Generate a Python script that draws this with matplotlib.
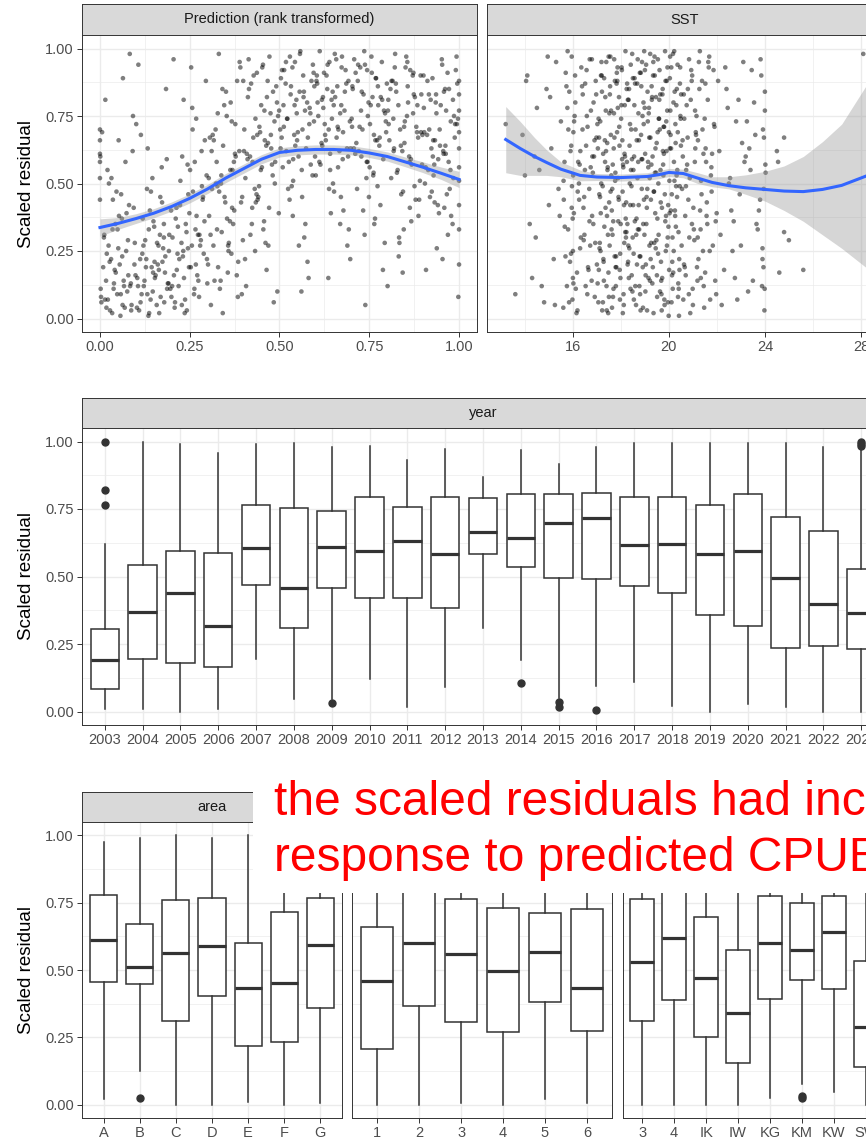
import matplotlib
matplotlib.use("Agg")
import matplotlib.pyplot as plt
from matplotlib.patches import Rectangle

plt.rcParams['font.family'] = ['Liberation Sans', 'DejaVu Sans']

# ---- data ----
# top left: rank transformed prediction vs scaled residual
pred_rank = [
    .003,.012,.021,.034,.041,.052,.067,.073,.088,.094,.006,.017,.028,.031,.046,.058,.061,.079,.083,.097,.001,.014,.025,.038,.049,.055,.069,.071,.086,.092,.036,.064,
    .104,.113,.126,.131,.147,.152,.165,.178,.181,.199,.107,.118,.122,.139,.144,.158,.163,.172,.189,.193,.101,.116,.129,.135,.149,.155,.168,.176,.184,.196,.133,.161,
    .202,.214,.223,.237,.245,.251,.266,.274,.283,.298,.208,.211,.227,.233,.248,.259,.262,.277,.289,.292,.205,.219,.224,.239,.242,.256,.268,.271,.286,.295,.231,.264,
    .303,.316,.322,.334,.347,.351,.362,.378,.385,.391,.309,.312,.328,.339,.343,.356,.369,.374,.382,.398,.306,.319,.325,.331,.349,.358,.364,.371,.388,.395,.337,.367,
    .401,.415,.424,.433,.448,.452,.461,.476,.487,.493,.407,.411,.428,.436,.444,.457,.468,.472,.481,.499,.404,.418,.421,.439,.446,.455,.465,.479,.484,.496,.431,.463,
    .502,.513,.526,.531,.544,.558,.563,.571,.589,.592,.506,.518,.521,.537,.547,.553,.566,.578,.583,.597,.509,.511,.529,.534,.541,.556,.569,.574,.586,.595,.538,.561,
    .603,.617,.622,.639,.641,.655,.662,.678,.684,.691,.608,.612,.627,.633,.649,.651,.667,.673,.689,.696,.605,.614,.629,.636,.645,.658,.664,.671,.682,.698,.631,.669,
    .701,.712,.728,.734,.742,.756,.763,.775,.781,.799,.707,.719,.723,.737,.748,.751,.769,.772,.788,.794,.704,.716,.725,.731,.745,.759,.766,.778,.785,.791,.739,.761,
    .803,.818,.821,.836,.844,.857,.868,.872,.887,.893,.806,.811,.825,.832,.849,.853,.861,.879,.884,.898,.801,.815,.829,.838,.846,.855,.864,.876,.881,.895,.834,.866,
    .902,.914,.926,.933,.941,.958,.963,.977,.982,.991,.905,.917,.921,.938,.947,.952,.966,.971,.986,.995,.908,.911,.929,.935,.944,.956,.968,.974,.989,.998,.931,.961,
    1.0,1.0,1.0,1.0,1.0,1.0,1.0,1.0,1.0,1.0, 0.0,0.0,0.0,0.0,0.0,0.0,
    .009,.018,.024,.039,.043,.057,.062,.076,.081,.099,.004,.011,.027,.032,.048,.051,.066,.074,.087,.091,.002,.019,.022,.035,.044,.059,.063,.078,.084,.096,.015,.053,
    .109,.112,.124,.136,.141,.159,.164,.173,.187,.192,.103,.119,.128,.132,.146,.153,.167,.179,.182,.198,.106,.114,.121,.137,.148,.151,.169,.174,.186,.191,.142,.178,
    .201,.217,.228,.232,.246,.253,.269,.276,.281,.297,.206,.213,.221,.236,.241,.258,.263,.279,.284,.291,.209,.216,.229,.234,.249,.254,.267,.273,.287,.299,.244,.257,
    .304,.311,.329,.332,.341,.359,.363,.377,.384,.393,.308,.317,.323,.336,.346,.354,.366,.373,.389,.396,.301,.314,.326,.338,.342,.353,.368,.376,.381,.399,.357,.327,
    .402,.419,.425,.437,.441,.458,.464,.477,.482,.498,.405,.414,.427,.432,.449,.451,.467,.471,.486,.494,.409,.412,.423,.438,.443,.454,.469,.475,.488,.491,.434,.459,
    .503,.517,.522,.538,.543,.551,.567,.572,.584,.599,.507,.512,.528,.532,.549,.557,.562,.577,.581,.596,.504,.519,.524,.536,.548,.554,.568,.579,.587,.593,.542,.564,
    .606,.611,.624,.637,.648,.652,.669,.674,.688,.692,.601,.618,.626,.634,.643,.659,.661,.676,.681,.697,.604,.619,.621,.638,.646,.654,.663,.677,.686,.693,.641,.672,
    .703,.714,.727,.738,.743,.752,.768,.773,.786,.797,.708,.711,.729,.733,.746,.757,.762,.779,.782,.793,.702,.718,.721,.736,.749,.754,.767,.774,.789,.796,.744,.764,
    .804,.812,.827,.831,.848,.851,.863,.874,.883,.897,.809,.817,.822,.839,.842,.858,.867,.871,.886,.891,.802,.819,.824,.833,.847,.856,.862,.877,.889,.894,.843,.873,
    .903,.916,.924,.937,.942,.953,.962,.978,.983,.994,.907,.912,.928,.932,.949,.957,.969,.972,.984,.997,.901,.919,.923,.936,.946,.954,.964,.976,.988,.993,.927,.959,
]
pred_resid = [
    .08,.31,.55,.02,.18,.66,.12,.25,.05,.41,.69,.14,.03,.22,.47,.09,.37,.16,.98,.28,.60,.07,.50,.11,.33,.20,.04,.58,.13,.75,.44,.89,
    .15,.06,.29,.48,.10,.21,.02,.35,.17,.08,.94,.24,.12,.40,.19,.05,.27,.56,.13,.31,.72,.09,.22,.01,.36,.16,.45,.26,.85,.11,.63,.20,
    .30,.18,.42,.07,.26,.55,.33,.14,.62,.22,.04,.37,.28,.81,.19,.47,.09,.31,.24,.66,.96,.12,.51,.35,.03,.27,.74,.16,.44,.88,.23,.58,
    .52,.27,.70,.11,.45,.84,.36,.60,.21,.93,.05,.48,.76,.32,.64,.17,.55,.40,.88,.29,.67,.14,.58,.98,.43,.25,.80,.35,.62,.09,.50,.73,
    .62,.85,.41,.74,.55,.93,.28,.68,.50,.80,.12,.59,.90,.46,.71,.36,.65,.97,.53,.77,.22,.60,.87,.44,.69,.33,.82,.57,.06,.75,.48,.64,
    .70,.92,.58,.83,.64,.99,.45,.77,.88,.53,.67,.95,.74,.38,.81,.60,.90,.21,.72,.86,.56,.79,.97,.49,.68,.84,.30,.63,.76,.91,.59,.10,
    .88,.65,.78,.95,.55,.82,.71,.40,.92,.60,.75,.99,.68,.85,.50,.79,.62,.93,.27,.73,.87,.57,.66,.15,.81,.96,.70,.45,.84,.63,.90,.35,
    .74,.91,.60,.83,.52,.97,.68,.79,.42,.87,.63,.94,.71,.31,.80,.56,.89,.66,.18,.76,.85,.48,.93,.70,.58,.82,.37,.64,.95,.77,.05,.53,
    .81,.62,.93,.70,.47,.86,.57,.76,.38,.90,.66,.52,.84,.23,.73,.97,.60,.44,.79,.68,.12,.88,.55,.64,.33,.75,.92,.49,.71,.83,.28,.59,
    .78,.55,.89,.66,.42,.84,.61,.73,.35,.92,.50,.70,.81,.26,.64,.96,.46,.58,.75,.87,.18,.68,.53,.80,.39,.62,.91,.48,.72,.08,.57,.85,
    .20,.33,.42,.51,.56,.63,.69,.77,.83,.88, .66,.58,.44,.70,.52,.61,
    .19,.04,.27,.13,.35,.01,.23,.10,.42,.16,.06,.30,.21,.52,.09,.26,.14,.39,.03,.62,.11,.24,.07,.33,.17,.46,.05,.29,.12,.20,.81,.38,
    .03,.22,.14,.33,.07,.28,.18,.43,.11,.25,.04,.37,.19,.09,.52,.15,.31,.06,.23,.40,.12,.68,.27,.02,.17,.34,.08,.21,.59,.13,.47,.30,
    .12,.34,.05,.25,.46,.19,.38,.08,.29,.53,.16,.41,.22,.02,.32,.70,.11,.27,.49,.36,.06,.24,.60,.15,.39,.93,.20,.31,.45,.13,.57,.78,
    .38,.62,.19,.47,.85,.28,.55,.72,.08,.43,.31,.66,.50,.14,.79,.37,.24,.58,.95,.45,.20,.68,.33,.53,.02,.75,.41,.61,.16,.88,.27,.49,
    .70,.31,.58,.91,.45,.77,.18,.63,.84,.39,.52,.96,.67,.25,.79,.56,.88,.41,.73,.10,.61,.82,.35,.68,.49,.94,.27,.76,.58,.86,.43,.66,
    .63,.87,.74,.51,.95,.69,.82,.35,.78,.60,.92,.71,.44,.86,.66,.98,.55,.80,.15,.73,.89,.62,.48,.93,.76,.27,.84,.67,.57,.94,.79,.70,
    .80,.58,.91,.70,.84,.47,.76,.97,.63,.88,.53,.81,.72,.94,.39,.67,.86,.59,.77,.22,.90,.64,.82,.48,.74,.98,.56,.69,.87,.33,.61,.79,
    .86,.65,.77,.94,.58,.72,.89,.49,.81,.69,.96,.61,.84,.40,.75,.91,.54,.67,.82,.28,.71,.88,.62,.99,.45,.79,.66,.86,.59,.73,.92,.35,
    .72,.88,.54,.79,.65,.93,.41,.83,.69,.57,.85,.74,.98,.46,.62,.80,.36,.90,.67,.51,.77,.63,.87,.30,.71,.95,.58,.82,.44,.69,.17,.91,
    .69,.83,.47,.76,.59,.94,.64,.38,.81,.72,.56,.88,.66,.43,.79,.61,.31,.85,.52,.74,.90,.45,.63,.83,.70,.22,.77,.55,.67,.97,.60,.41,
]
pred_fit_x = [0, .05, .1, .15, .2, .25, .3, .35, .4, .45, .5, .55, .6, .65, .7, .75, .8, .85, .9, .95, 1.0]
pred_fit_y = [.337, .352, .37, .39, .415, .445, .48, .52, .555, .59, .615, .623, .626, .626, .623, .613, .60, .58, .56, .538, .515]
pred_fit_lo = [.305, .33, .352, .373, .398, .428, .463, .503, .538, .573, .598, .606, .609, .609, .606, .596, .583, .562, .54, .515, .485]
pred_fit_hi = [.369, .374, .388, .407, .432, .462, .497, .537, .572, .607, .632, .640, .643, .643, .640, .630, .617, .598, .58, .561, .545]

# top right: SST vs scaled residual
sst = [
    13.2,13.6,14.0,13.9,14.1,14.2,14.3,14.5,14.6,14.8,14.9,15.0,15.1,15.2,15.3,15.4,15.5,14.05,14.4,14.45,14.7,15.05,15.25,15.45,14.95,
    15.6,15.7,15.8,15.9,16.0,16.1,16.2,16.3,16.4,16.5,16.6,16.7,16.8,16.9,17.0,
    15.65,15.75,15.85,15.95,16.05,16.15,16.25,16.35,16.45,16.55,16.65,16.75,16.85,16.95,15.98,
    15.62,15.78,15.92,16.02,16.12,16.28,16.38,16.48,16.58,16.68,16.78,16.88,16.97,16.01,15.99,
    17.02,17.08,17.13,17.17,17.22,17.26,17.31,17.35,17.40,17.44,17.49,17.53,17.58,17.62,17.67,17.71,17.76,17.80,17.85,17.89,17.94,17.98,18.03,18.07,18.12,18.16,18.21,18.25,18.30,18.34,18.39,18.43,18.48,
    17.04,17.11,17.19,17.24,17.29,17.37,17.42,17.47,17.55,17.60,17.65,17.73,17.78,17.83,17.91,17.96,18.01,18.09,18.14,18.19,18.27,18.32,18.37,18.45,18.50,
    17.15,17.33,17.51,17.69,17.87,18.05,18.23,18.41,17.06,17.45,17.82,18.28,
    18.52,18.60,18.68,18.76,18.84,18.92,19.00,19.08,19.16,19.24,19.32,19.40,19.48,19.56,19.64,19.72,19.80,19.88,19.96,20.04,20.12,20.20,20.28,20.36,20.44,
    18.56,18.64,18.72,18.80,18.88,18.96,19.04,19.12,19.20,19.28,19.36,19.44,19.52,19.60,19.68,19.76,19.84,19.92,20.00,20.08,20.16,20.24,20.32,20.40,20.48,
    18.54,18.66,18.74,18.83,18.91,18.99,19.06,19.14,19.22,19.31,19.38,19.46,19.55,19.62,19.70,19.79,19.86,19.95,20.02,20.10,20.18,20.27,20.34,20.42,20.50,
    18.58,18.70,18.78,18.86,18.94,19.02,19.10,19.18,19.26,19.34,19.42,19.50,19.58,19.66,19.74,19.82,19.90,19.98,20.06,20.14,20.22,20.30,20.38,20.46,20.03,
    20.55,20.62,20.70,20.78,20.85,20.93,21.00,21.08,21.15,21.23,21.30,21.38,21.45,21.53,21.60,21.68,21.75,21.83,21.90,21.97,
    20.58,20.66,20.74,20.81,20.89,20.97,21.04,21.12,21.19,21.27,21.34,21.42,21.49,21.57,21.64,
    20.60,20.76,20.91,21.06,21.21,21.36,21.51,21.66,21.80,21.95,
    22.1,22.3,22.4,22.6,22.8,23.0,23.1,23.3,23.4,23.6,23.7,23.85,23.9,23.95,24.0,22.2,22.5,22.7,22.9,23.2,23.5,23.8,23.92,23.98,24.02,22.35,22.65,23.05,23.55,23.88,
    24.5,24.55,24.8,24.8,25.0,25.6,24.6,28.1,
    15.61,15.69,15.77,15.84,15.93,16.04,16.09,16.17,16.22,16.33,16.41,16.47,16.53,16.61,16.72,16.79,16.83,16.91,16.98,15.66,
    15.73,15.88,15.96,16.07,16.19,16.31,16.44,16.57,16.63,16.74,16.86,16.93,15.81,16.02,16.26,16.51,16.69,16.81,15.95,16.00,
    17.03,17.09,17.16,17.21,17.27,17.34,17.39,17.46,17.52,17.57,17.63,17.70,17.75,17.81,17.88,17.93,17.99,18.04,18.11,18.17,18.22,18.29,18.35,18.42,18.47,
    17.07,17.12,17.18,17.25,17.30,17.36,17.43,17.48,17.54,17.61,17.66,17.72,17.79,17.84,17.90,17.97,18.02,18.08,18.15,18.20,18.26,18.33,18.38,18.44,18.49,
    17.10,17.20,17.28,17.38,17.50,17.59,17.68,17.77,17.86,17.95,18.06,18.13,18.24,18.31,18.40,18.46,17.14,17.41,17.64,17.92,18.18,18.36,17.56,17.74,18.10,
    18.51,18.59,18.67,18.75,18.82,18.90,18.98,19.05,19.13,19.21,19.29,19.37,19.45,19.53,19.61,19.69,19.77,19.85,19.93,20.01,20.09,20.17,20.25,20.33,20.41,
    18.55,18.63,18.71,18.79,18.87,18.95,19.03,19.11,19.19,19.27,19.35,19.43,19.51,19.59,19.67,19.75,19.83,19.91,19.99,20.07,20.15,20.23,20.31,20.39,20.47,
    18.53,18.61,18.69,18.77,18.85,18.93,19.01,19.09,19.17,19.25,19.33,19.41,19.49,19.57,19.65,19.73,19.81,19.89,19.97,20.05,20.13,20.21,20.29,20.37,20.45,
    18.57,18.65,18.73,18.81,18.89,18.97,19.07,19.15,19.23,19.30,19.39,19.47,19.54,19.63,19.71,19.78,19.87,19.94,20.04,20.11,20.19,20.26,20.35,20.43,20.49,
    20.53,20.64,20.72,20.83,20.95,21.02,21.10,21.17,21.25,21.32,21.40,21.47,21.55,21.62,21.70,21.78,21.86,21.93,20.57,20.68,
    20.79,20.87,20.99,21.09,21.20,21.29,21.44,21.58,21.72,21.88,20.51,20.63,20.71,20.84,20.96,21.13,21.33,21.52,21.77,21.99,
    22.15,22.45,22.75,23.15,23.45,23.75,23.9,23.96,24.0,22.55,22.85,23.25,23.65,23.82,23.94,22.05,22.95,23.35,23.99,24.03,
]
sst_resid = [
    .72,.09,.53,.68,.90,.35,.15,.78,.55,.06,.85,.42,.63,.22,.95,.48,.73,.88,.60,.30,.12,.82,.05,.38,.97,
    .04,.91,.33,.62,.15,.80,.47,.26,.70,.55,.09,.96,.38,.66,.20,
    .58,.12,.84,.41,.73,.02,.50,.93,.29,.64,.18,.77,.35,.88,.07,
    .44,.99,.24,.69,.11,.57,.86,.31,.75,.48,.14,.60,.83,.53,.37,
    .72,.18,.45,.90,.03,.61,.34,.82,.12,.55,.97,.27,.68,.40,.08,.76,.51,.23,.88,.36,.64,.15,.93,.47,.05,.79,.30,.58,.21,.85,.42,.70,.10,
    .63,.26,.95,.49,.14,.77,.38,.02,.86,.53,.31,.67,.19,.91,.44,.07,.74,.57,.28,.99,.35,.81,.50,.16,.89,
    .25,.66,.43,.11,.78,.59,.32,.94,.06,.56,.87,.20,
    .55,.12,.87,.33,.68,.04,.92,.41,.76,.22,.60,.97,.29,.50,.83,.15,.71,.38,.06,.89,.46,.25,.65,.94,.18,
    .79,.31,.58,.09,.95,.44,.20,.73,.52,.86,.02,.63,.37,.81,.14,.57,.99,.27,.69,.40,.11,.84,.53,.32,.75,
    .07,.66,.42,.91,.19,.78,.35,.56,.98,.13,.47,.82,.24,.70,.03,.61,.88,.30,.51,.93,.17,.72,.45,.01,.64,
    .36,.96,.23,.59,.80,.10,.48,.67,.28,.90,.54,.16,.74,.43,.85,.05,.62,.34,.77,.21,.99,.49,.08,.87,.39,
    .48,.83,.16,.67,.30,.92,.05,.58,.75,.22,.40,.88,.12,.63,.35,.97,.53,.27,.71,.09,
    .60,.19,.79,.44,.02,.90,.33,.69,.14,.85,.51,.25,.74,.38,.95,
    .07,.57,.81,.29,.66,.46,.17,.93,.61,.36,
    .62,.18,.85,.40,.73,.27,.95,.10,.55,.68,.33,.90,.22,.48,.77,.05,.50,.36,.81,.60,.14,.44,.70,.03,.57,.93,.25,.65,.80,.12,
    .62,.58,.67,.32,.29,.18,.17,.98,
    .51,.23,.78,.06,.64,.39,.90,.17,.58,.30,.83,.45,.12,.71,.27,.96,.54,.08,.67,.34,
    .86,.21,.49,.75,.03,.62,.41,.92,.19,.56,.80,.28,.70,.13,.44,.87,.36,.60,.97,.25,
    .13,.67,.39,.84,.22,.58,.95,.31,.76,.47,.04,.63,.88,.19,.52,.71,.35,.92,.09,.60,.43,.81,.26,.55,.98,
    .74,.28,.50,.06,.89,.41,.65,.17,.83,.33,.57,.96,.12,.69,.45,.24,.79,.02,.61,.37,.87,.15,.72,.49,.30,
    .46,.90,.21,.62,.08,.77,.36,.54,.93,.18,.66,.42,.85,.27,.11,.59,.73,.03,.48,.82,.32,.64,.97,.23,.56,
    .42,.87,.20,.66,.03,.75,.31,.94,.58,.14,.81,.47,.26,.69,.92,.09,.53,.36,.77,.18,.63,.98,.40,.85,.11,
    .60,.05,.33,.91,.48,.72,.16,.84,.27,.57,.95,.39,.08,.74,.21,.62,.46,.88,.01,.68,.30,.51,.79,.13,.93,
    .24,.70,.52,.12,.86,.35,.61,.03,.78,.44,.19,.90,.65,.31,.55,.83,.07,.73,.42,.97,.16,.58,.34,.69,.49,
    .89,.37,.76,.23,.59,.99,.45,.15,.67,.82,.28,.54,.96,.10,.41,.71,.25,.93,.63,.06,.80,.38,.55,.22,.74,
    .27,.74,.55,.09,.88,.41,.63,.19,.95,.33,.70,.04,.58,.81,.25,.47,.92,.14,.66,.38,
    .85,.52,.11,.77,.30,.99,.61,.43,.07,.72,.83,.20,.49,.96,.35,.68,.15,.87,.56,.39,
    .31,.78,.15,.58,.92,.40,.26,.67,.84,.52,.07,.73,.35,.96,.19,.88,.46,.63,.11,.54,
]
sst_fit_x = [13.2, 13.8, 14.4, 14.9, 15.5, 16.3, 17.0, 18.0, 19.1, 19.6, 20.0, 20.6, 21.2, 21.8, 22.5, 23.2, 24.0, 24.8, 25.6, 26.4, 27.2, 28.2]
sst_fit_y = [.663, .63, .60, .578, .553, .53, .524, .522, .526, .533, .541, .537, .52, .504, .492, .484, .478, .472, .47, .478, .493, .527]
sst_fit_lo = [.54, .53, .53, .53, .525, .51, .511, .509, .512, .518, .526, .521, .50, .488, .48, .46, .435, .40, .36, .31, .26, .19]
sst_fit_hi = [.785, .73, .67, .625, .58, .55, .537, .535, .54, .548, .556, .553, .54, .525, .525, .532, .545, .565, .60, .655, .72, .86]

# middle: boxplots by year
years = [str(y) for y in range(2003, 2024)]
year_lo = [.01, .01, .0, .01, .193, .048, .045, .119, .015, .089, .311, .189, .05, .096, .111, .019, .0, .026, .015, .0, .0]
year_q1 = [.085, .193, .178, .163, .467, .311, .459, .419, .419, .385, .585, .537, .496, .489, .463, .44, .359, .315, .237, .241, .23]
year_med = [.189, .37, .44, .315, .607, .459, .611, .593, .633, .585, .663, .641, .70, .718, .615, .622, .585, .593, .496, .40, .363]
year_q3 = [.307, .544, .593, .588, .763, .752, .744, .793, .756, .793, .789, .807, .804, .811, .793, .796, .763, .807, .722, .667, .526]
year_hi = [.62, 1.0, .99, .956, .99, .996, .978, .985, .933, .974, .87, .97, .915, .981, .993, .996, .996, .996, .996, .981, .97]
year_out = [[1.0, .82, .765], [], [], [], [], [], [.033], [], [], [], [], [.104], [.035, .015], [.007],
            [], [], [], [], [], [], [.985, .99, 1.0]]

# bottom: boxplots by area (three facets)
area1 = ['A', 'B', 'C', 'D', 'E', 'F', 'G']
area1_lo = [.022, .126, .0, .0, .011, .0, .007]
area1_q1 = [.456, .448, .311, .404, .219, .233, .359]
area1_med = [.611, .511, .563, .589, .433, .452, .593]
area1_q3 = [.78, .67, .76, .767, .60, .715, .767]
area1_hi = [.974, .989, 1.0, .99, 1.0, .99, .99]
area1_out = [[], [.026], [], [], [], [], []]

area2 = ['1', '2', '3', '4', '5', '6']
area2_lo = [.0, .0, .007, .0, .022, .007]
area2_q1 = [.207, .367, .307, .27, .381, .274]
area2_med = [.459, .60, .559, .496, .567, .433]
area2_q3 = [.659, .80, .763, .73, .711, .726]
area2_hi = [.99, 1.0, .99, 1.0, .98, .99]
area2_out = [[], [], [], [], [], []]

area3 = ['3', '4', 'IK', 'IW', 'KG', 'KM', 'KW', 'SW']
area3_lo = [.0, .0, .0, .0, .026, .078, .048, .0]
area3_q1 = [.311, .389, .252, .156, .393, .463, .43, .141]
area3_med = [.53, .618, .47, .341, .60, .574, .641, .289]
area3_q3 = [.763, .80, .697, .574, .774, .748, .774, .533]
area3_hi = [.99, 1.0, .99, .97, .99, .99, .99, .99]
area3_out = [[], [], [], [], [], [.03, .025], [], []]

# ---- layout in pixels ----
W, H = 866, 1141
fig = plt.figure(figsize=(W / 100, H / 100), dpi=100)
DARK = '#333333'


def px_axes(l, t, r, b):
    return fig.add_axes([l / W, 1 - b / H, (r - l) / W, (b - t) / H])


def strip(l, t, r, b, label):
    ax = px_axes(l, t, r, b)
    ax.set_facecolor('#D9D9D9')
    ax.set_xticks([])
    ax.set_yticks([])
    for s in ax.spines.values():
        s.set_color(DARK)
        s.set_linewidth(0.7)
    if label:
        ax.text(0.5, 0.5, label, transform=ax.transAxes, ha='center', va='center',
                fontsize=10.5, color='#1A1A1A')


def panel(l, t, r, b, ylabels):
    ax = px_axes(l, t, r, b)
    ax.set_ylim(-0.05, 1.05)
    ax.set_yticks([0, .25, .5, .75, 1])
    ax.set_yticks([.125, .375, .625, .875], minor=True)
    if ylabels:
        ax.set_yticklabels(['0.00', '0.25', '0.50', '0.75', '1.00'])
    else:
        ax.set_yticklabels([])
    ax.grid(which='major', color='#EBEBEB', lw=1.0)
    ax.grid(which='minor', color='#EBEBEB', lw=0.5)
    ax.set_axisbelow(True)
    ax.tick_params(which='major', length=3.5, width=0.7, color=DARK,
                   labelsize=10.5, labelcolor='#4D4D4D', pad=2.5)
    ax.tick_params(which='minor', length=0)
    if not ylabels:
        ax.tick_params(axis='y', which='major', length=0)
    for s in ax.spines.values():
        s.set_color(DARK)
        s.set_linewidth(0.7)
    return ax


def boxes(ax, labels, lo, q1, med, q3, hi, out):
    stats = []
    for i in range(len(labels)):
        stats.append(dict(whislo=lo[i], q1=q1[i], med=med[i], q3=q3[i], whishi=hi[i], fliers=out[i]))
    pos = list(range(1, len(labels) + 1))
    ax.bxp(stats, positions=pos, widths=0.75, showcaps=False, patch_artist=True,
           manage_ticks=False,
           boxprops=dict(facecolor='white', edgecolor=DARK, lw=1.1),
           medianprops=dict(color=DARK, lw=2.3),
           whiskerprops=dict(color=DARK, lw=1.1),
           flierprops=dict(marker='o', markerfacecolor=DARK, markeredgecolor=DARK, markersize=5))
    ax.set_xticks(pos)
    ax.set_xticklabels(labels)
    ax.set_xlim(0.4, len(labels) + 0.6)


# top left
strip(82, 4, 477, 35, 'Prediction (rank transformed)')
ax = panel(82, 35, 477, 332, True)
ax.scatter(pred_rank, pred_resid, s=11, c='black', alpha=0.5, edgecolors='none', zorder=2)
ax.fill_between(pred_fit_x, pred_fit_lo, pred_fit_hi, color='#999999', alpha=0.4, lw=0, zorder=3)
ax.plot(pred_fit_x, pred_fit_y, color='#3366FF', lw=2.2, zorder=4)
ax.set_xlim(-0.05, 1.05)
ax.set_xticks([0, .25, .5, .75, 1])
ax.set_xticks([.125, .375, .625, .875], minor=True)
ax.set_xticklabels(['0.00', '0.25', '0.50', '0.75', '1.00'])

# top right
strip(487, 4, 882, 35, 'SST')
ax = panel(487, 35, 882, 332, False)
ax.scatter(sst, sst_resid, s=11, c='black', alpha=0.5, edgecolors='none', zorder=2)
ax.fill_between(sst_fit_x, sst_fit_lo, sst_fit_hi, color='#999999', alpha=0.4, lw=0, zorder=3)
ax.plot(sst_fit_x, sst_fit_y, color='#3366FF', lw=2.2, zorder=4)
ax.set_xlim(12.42, 28.88)
ax.set_xticks([16, 20, 24, 28])
ax.set_xticks([14, 18, 22, 26], minor=True)

# middle: year
strip(82, 398, 884, 428, 'year')
ax = panel(82, 428, 884, 725, True)
boxes(ax, years, year_lo, year_q1, year_med, year_q3, year_hi, year_out)

# bottom: area (strips of the 2nd and 3rd facet sit under the note box)
strip(82, 792, 342, 822, 'area')
ax = panel(82, 822, 342, 1118, True)
boxes(ax, area1, area1_lo, area1_q1, area1_med, area1_q3, area1_hi, area1_out)
strip(352, 792, 612, 822, '')
ax = panel(352, 822, 612, 1118, False)
boxes(ax, area2, area2_lo, area2_q1, area2_med, area2_q3, area2_hi, area2_out)
strip(623, 792, 885, 822, '')
ax = panel(623, 822, 885, 1118, False)
boxes(ax, area3, area3_lo, area3_q1, area3_med, area3_q3, area3_hi, area3_out)

# axis titles
for yc in (184, 576, 970):
    fig.text(27 / W, 1 - yc / H, 'Scaled residual', rotation=90, ha='center', va='center',
             fontsize=13.5, color='black')

# red annotation on a white box
fig.add_artist(Rectangle((253 / W, 1 - 893 / H), (880 - 253) / W, (893 - 783) / H,
                         transform=fig.transFigure, facecolor='white', edgecolor='none', zorder=10))
fig.text(274 / W, 1 - 815 / H, 'the scaled residuals had increasing', color='red',
         fontsize=34.5, ha='left', va='baseline', zorder=11)
fig.text(274 / W, 1 - 871 / H, 'response to predicted CPUE', color='red',
         fontsize=34.5, ha='left', va='baseline', zorder=11)

fig.savefig('out.png', dpi=100)
